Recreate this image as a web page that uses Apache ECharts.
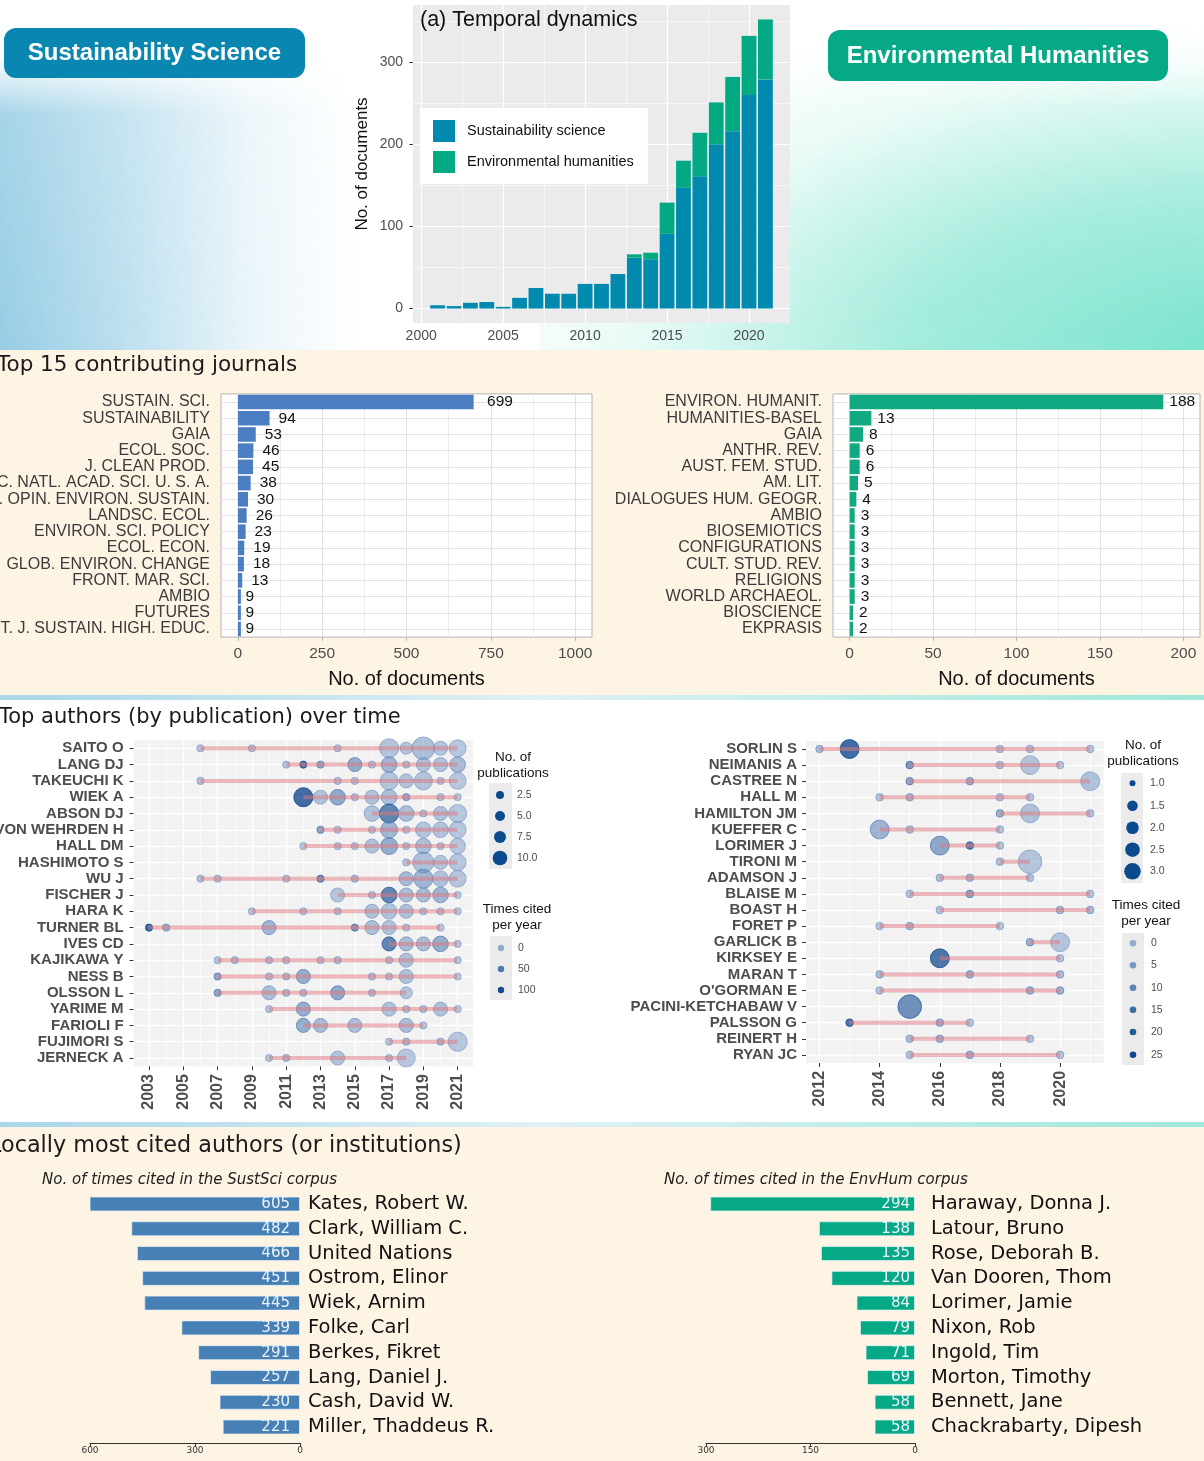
<!DOCTYPE html>
<html><head><meta charset="utf-8">
<script src="https://cdn.jsdelivr.net/npm/echarts@6/dist/echarts.min.js"></script>
<style>
html,body{margin:0;padding:0;}
body{width:1204px;height:1461px;position:relative;overflow:hidden;background:#fff;}
#top{position:absolute;left:0;top:0;width:1204px;height:350px;background:#fff;overflow:hidden;}
#glowL{position:absolute;left:0;top:55px;width:400px;height:295px;
 background:linear-gradient(to right, rgba(150,205,228,1) 0%, rgba(178,218,236,0.88) 30%, rgba(215,236,245,0.55) 62%, rgba(255,255,255,0) 90%);
 -webkit-mask-image:linear-gradient(to bottom, rgba(0,0,0,0) 0%, rgba(0,0,0,0.85) 20%, rgba(0,0,0,1) 100%);
 mask-image:linear-gradient(to bottom, rgba(0,0,0,0) 0%, rgba(0,0,0,0.85) 20%, rgba(0,0,0,1) 100%);}
#glowR{position:absolute;left:540px;top:20px;width:720px;height:390px;
 background:radial-gradient(ellipse at 100% 85%, rgba(115,226,203,1) 0%, rgba(140,231,211,0.8) 35%, rgba(200,244,235,0.4) 62%, rgba(255,255,255,0) 82%);
 -webkit-mask-image:linear-gradient(to bottom, rgba(0,0,0,0) 0%, rgba(0,0,0,0.9) 22%, rgba(0,0,0,1) 100%);
 mask-image:linear-gradient(to bottom, rgba(0,0,0,0) 0%, rgba(0,0,0,0.9) 22%, rgba(0,0,0,1) 100%);}
#band1{position:absolute;left:0;top:350px;width:1204px;height:345px;background:#fdf4e4;}
#strip1{position:absolute;left:0;top:695px;width:1204px;height:5px;background:linear-gradient(to right,#a9d6e8,#dff1f5 45%,#9fe8d8);}
#strip2{position:absolute;left:0;top:1122px;width:1204px;height:5px;background:linear-gradient(to right,#a9d6e8,#dff1f5 45%,#9fe8d8);}
#band3{position:absolute;left:0;top:1127px;width:1204px;height:334px;background:#fdf4e4;}
#chart{position:absolute;left:0;top:0;width:1204px;height:1461px;}
</style>
</head><body>
<div id="top"><div id="glowL"></div><div id="glowR"></div></div>
<div id="band1"></div><div id="strip1"></div><div id="strip2"></div><div id="band3"></div>
<div id="chart"></div>
<script>
// ---------------- DATA ----------------
const temporalYears = [2001,2002,2003,2004,2005,2006,2007,2008,2009,2010,2011,2012,2013,2014,2015,2016,2017,2018,2019,2020,2021];
const ssDocsPerYear = [4,3,7,8,2,13,25,18,18,30,30,42,62,60,91,147,161,200,216,260,279];
const ehDocsPerYear = [0,0,0,0,0,0,0,0,0,0,0,0,4,8,38,33,53,51,66,72,73];
const temporalYearTicks = [2000,2005,2010,2015,2020];
const temporalDocTicks = [0,100,200,300];

const ssJournals = ['SUSTAIN. SCI.','SUSTAINABILITY','GAIA','ECOL. SOC.','J. CLEAN PROD.','PROC. NATL. ACAD. SCI. U. S. A.','CURR. OPIN. ENVIRON. SUSTAIN.','LANDSC. ECOL.','ENVIRON. SCI. POLICY','ECOL. ECON.','GLOB. ENVIRON. CHANGE','FRONT. MAR. SCI.','AMBIO','FUTURES','INT. J. SUSTAIN. HIGH. EDUC.'];
const ssJournalDocs = [699,94,53,46,45,38,30,26,23,19,18,13,9,9,9];
const ssJournalTicks = [0,250,500,750,1000];

const ehJournals = ['ENVIRON. HUMANIT.','HUMANITIES-BASEL','GAIA','ANTHR. REV.','AUST. FEM. STUD.','AM. LIT.','DIALOGUES HUM. GEOGR.','AMBIO','BIOSEMIOTICS','CONFIGURATIONS','CULT. STUD. REV.','RELIGIONS','WORLD ARCHAEOL.','BIOSCIENCE','EKPRASIS'];
const ehJournalDocs = [188,13,8,6,6,5,4,3,3,3,3,3,3,2,2];
const ehJournalTicks = [0,50,100,150,200];

const ssAuthors = ['SAITO O','LANG DJ','TAKEUCHI K','WIEK A','ABSON DJ','VON WEHRDEN H','HALL DM','HASHIMOTO S','WU J','FISCHER J','HARA K','TURNER BL','IVES CD','KAJIKAWA Y','NESS B','OLSSON L','YARIME M','FARIOLI F','FUJIMORI S','JERNECK A'];
// per author: [year, no. of publications, times cited per year]
const ssAuthorRecords = [
 [[2006,1,8],[2009,1,8],[2014,1,8],[2017,7,8],[2018,2,8],[2019,11,14],[2020,3,8],[2021,5,6]],
 [[2011,1,8],[2012,1,105],[2013,1,45],[2015,3,40],[2016,1,8],[2017,4,30],[2018,1,8],[2019,3,12],[2020,3,12],[2021,4,22]],
 [[2006,1,12],[2014,1,8],[2015,1,8],[2017,6,8],[2018,3,8],[2019,6,10],[2020,1,8],[2021,5,6]],
 [[2012,7,120],[2013,3,12],[2014,4,45],[2015,1,8],[2016,3,12],[2017,4,18],[2018,1,40],[2020,1,8],[2021,1,6]],
 [[2016,4,12],[2017,7,85],[2018,4,18],[2019,1,8],[2020,3,12],[2021,6,6]],
 [[2013,1,50],[2014,1,8],[2016,1,8],[2017,5,30],[2018,1,8],[2019,4,8],[2020,4,10],[2021,5,6]],
 [[2012,1,8],[2014,1,8],[2015,1,8],[2016,3,12],[2017,5,40],[2018,1,8],[2019,4,15],[2020,1,8],[2021,4,6]],
 [[2018,1,8],[2019,9,12],[2020,3,8],[2021,5,6]],
 [[2006,1,12],[2007,1,8],[2011,1,8],[2013,1,75],[2015,1,18],[2018,3,20],[2019,7,30],[2020,4,12],[2021,5,8]],
 [[2014,3,8],[2016,1,8],[2017,4,85],[2018,3,18],[2019,3,22],[2020,4,30],[2021,1,6]],
 [[2009,1,8],[2012,1,8],[2014,1,8],[2016,3,12],[2017,4,12],[2018,3,12],[2019,1,8],[2020,1,8],[2021,1,6]],
 [[2003,1,110],[2004,1,35],[2010,3,30],[2015,1,65],[2016,3,18],[2017,3,12],[2018,1,8],[2020,1,6]],
 [[2017,3,85],[2018,3,22],[2019,3,22],[2020,4,40],[2021,1,6]],
 [[2007,1,8],[2008,1,12],[2010,1,12],[2011,1,12],[2013,1,8],[2014,1,12],[2017,1,8],[2018,3,12],[2021,1,6]],
 [[2007,1,50],[2010,1,12],[2011,1,18],[2012,3,40],[2016,1,12],[2017,1,8],[2018,3,12],[2021,1,6]],
 [[2007,1,50],[2010,3,18],[2011,1,18],[2012,1,12],[2014,3,45],[2016,1,12],[2018,2,8]],
 [[2010,1,8],[2012,3,40],[2017,3,12],[2018,1,12],[2019,1,12],[2020,3,12],[2021,1,6]],
 [[2012,3,40],[2013,3,22],[2015,3,18],[2018,3,18],[2019,1,8]],
 [[2017,1,8],[2018,1,18],[2020,1,18],[2021,7,6]],
 [[2010,1,8],[2011,1,18],[2014,3,12],[2017,1,12],[2018,6,6]]
];
const ssAuthorYearTicks = [2003,2005,2007,2009,2011,2013,2015,2017,2019,2021];
const ssPubLegendValues = [2.5,5,7.5,10];
const ssCiteLegendValues = [0,50,100];

const ehAuthors = ['SORLIN S','NEIMANIS A','CASTREE N','HALL M','HAMILTON JM','KUEFFER C','LORIMER J','TIRONI M','ADAMSON J','BLAISE M','BOAST H','FORET P','GARLICK B','KIRKSEY E','MARAN T',"O'GORMAN E",'PACINI-KETCHABAW V','PALSSON G','REINERT H','RYAN JC'];
const ehAuthorRecords = [
 [[2012,1,5],[2013,2,27],[2018,1,3],[2019,1,3],[2021,1,3]],
 [[2015,1,16],[2018,1,3],[2019,2,2],[2020,1,2]],
 [[2015,1,12],[2017,1,9],[2021,2,3]],
 [[2014,1,3],[2015,1,6],[2018,1,3],[2019,1,3]],
 [[2018,1,9],[2019,2,3],[2021,1,3]],
 [[2014,2,8],[2015,1,4],[2018,1,3]],
 [[2016,2,12],[2017,1,22],[2018,1,3]],
 [[2018,1,4],[2019,3,2]],
 [[2016,1,4],[2017,1,6],[2019,1,3]],
 [[2015,1,3],[2017,1,12],[2021,1,3]],
 [[2016,1,3],[2020,1,6],[2021,1,6]],
 [[2014,1,3],[2015,1,6],[2018,1,3]],
 [[2019,1,9],[2020,2,2]],
 [[2016,2,25],[2020,1,3]],
 [[2014,1,5],[2017,1,8],[2020,1,5]],
 [[2014,1,3],[2019,1,8],[2020,1,8]],
 [[2015,3,18]],
 [[2013,1,25],[2016,1,8],[2017,1,3]],
 [[2015,1,5],[2016,1,8],[2019,1,3]],
 [[2015,1,3],[2017,1,8],[2020,1,3]]
];
const ehAuthorYearTicks = [2012,2014,2016,2018,2020];
const ehPubLegendValues = [1,1.5,2,2.5,3];
const ehCiteLegendValues = [0,5,10,15,20,25];

const ssCitedNames = ['Kates, Robert W.','Clark, William C.','United Nations','Ostrom, Elinor','Wiek, Arnim','Folke, Carl','Berkes, Fikret','Lang, Daniel J.','Cash, David W.','Miller, Thaddeus R.'];
const ssCitedCounts = [605,482,466,451,445,339,291,257,230,221];
const ssCitedTicks = [0,300,600];
const ehCitedNames = ['Haraway, Donna J.','Latour, Bruno','Rose, Deborah B.','Van Dooren, Thom','Lorimer, Jamie','Nixon, Rob','Ingold, Tim','Morton, Timothy','Bennett, Jane','Chackrabarty, Dipesh'];
const ehCitedCounts = [294,138,135,120,84,79,71,69,58,58];
const ehCitedTicks = [0,150,300];

// ---------------- HELPERS ----------------
const FONT = '"Liberation Sans", Arial, sans-serif';
const DV = '"DejaVu Sans", sans-serif';
const plain = v => String(v);
const grid = [], xAxis = [], yAxis = [], series = [], graphic = [];

function minorsOf(ticks, min, max){
  const out = [];
  const step = ticks[1]-ticks[0];
  const cand = [ticks[0]-step/2];
  for (let i=0;i<ticks.length-1;i++) cand.push((ticks[i]+ticks[i+1])/2);
  cand.push(ticks[ticks.length-1]+step/2);
  cand.forEach(v=>{ if (v>min && v<max) out.push(v); });
  return out;
}
function gridLines(idx, xs, ys){
  const data = [];
  xs.forEach(l=>data.push({xAxis:l.v, lineStyle:{color:l.c, width:l.w, type:'solid'}}));
  ys.forEach(l=>data.push({yAxis:l.v, lineStyle:{color:l.c, width:l.w, type:'solid'}}));
  series.push({type:'line', xAxisIndex:idx, yAxisIndex:idx, data:[], z:1, silent:true, animation:false,
    markLine:{z:1, silent:true, symbol:['none','none'], label:{show:false}, emphasis:{disabled:true}, animation:false, data}});
}
function lines(vals, c, w){ return vals.map(v=>({v, c, w})); }
function bubbleColor(tc, tcMax){
  const t = Math.max(0, Math.min(1, tc/tcMax));
  const lo=[120,153,197], hi=[8,66,138];
  const c = lo.map((v,i)=>Math.round(v+(hi[i]-v)*t));
  const a = 0.58 + 0.37*t;
  return {fill:`rgba(${c.join(',')},${a.toFixed(2)})`, stroke:`rgba(${c.join(',')},${Math.min(1,a+0.2).toFixed(2)})`};
}
const ssRadius = n => 3.6 + 7.7*Math.sqrt((n-1)/10);
const ehRadius = n => 3.8 + 8*Math.sqrt((n-1)/2);

function txt(text, x, y, opt){
  opt = opt || {};
  graphic.push({type:'text', x, y, z:20, silent:true, style:{text, fill:opt.fill||'#111',
    font:(opt.style||'normal')+' '+(opt.weight||'normal')+' '+(opt.size||13)+'px '+(opt.family||FONT),
    textAlign:opt.align||'left', textVerticalAlign:'middle', align:opt.align||'left', verticalAlign:'middle'}});
}

// ---------------- (a) Temporal dynamics ----------------
grid.push({left:413, top:5, width:377, height:318, show:true, backgroundColor:'#ebebeb', borderWidth:0, outerBoundsMode:'none'});
xAxis.push({gridIndex:0, type:'value', min:1999.5, max:2022.5, splitLine:{show:false}, axisLine:{show:false},
  axisTick:{show:true, customValues:temporalYearTicks, length:3.7, lineStyle:{color:'#333'}},
  axisLabel:{customValues:temporalYearTicks, formatter:plain, fontSize:14, color:'#4d4d4d', margin:6, fontFamily:FONT}});
yAxis.push({gridIndex:0, type:'value', min:-17.6, max:369.6, splitLine:{show:false}, axisLine:{show:false},
  axisTick:{show:true, customValues:temporalDocTicks, length:3.7, lineStyle:{color:'#333'}},
  axisLabel:{customValues:temporalDocTicks, formatter:plain, fontSize:14, color:'#4d4d4d', margin:10, fontFamily:FONT},
  name:'No. of documents', nameLocation:'middle', nameGap:42, nameTextStyle:{fontSize:17, color:'#111', fontFamily:FONT}});
gridLines(0,
  lines(temporalYearTicks,'#fff',1.2).concat(lines(minorsOf(temporalYearTicks,1999.5,2022.5),'#fff',0.6)),
  lines(temporalDocTicks,'#fff',1.2).concat(lines(minorsOf(temporalDocTicks,-17.6,369.6),'#fff',0.6)));
series.push({name:'Sustainability science', type:'bar', stack:'docs', xAxisIndex:0, yAxisIndex:0, barWidth:14.8, z:2,
  encode:{x:1, y:0}, data:temporalYears.map((y,i)=>[ssDocsPerYear[i], y]), itemStyle:{color:'#0189ae'}});
series.push({name:'Environmental humanities', type:'bar', stack:'docs', xAxisIndex:0, yAxisIndex:0, barWidth:14.8, z:2,
  encode:{x:1, y:0}, data:temporalYears.map((y,i)=>[ehDocsPerYear[i], y]), itemStyle:{color:'#02a983'}});
txt('(a) Temporal dynamics', 420, 20, {size:21.5});

// ---------------- Top 15 journals ----------------
function journalPanel(gi, left, width, min, max, ticks, names, vals, color, distFn){
  grid.push({left, top:393.9, width, height:243.2, show:true, backgroundColor:'#fff', borderColor:'#b3b3b3', borderWidth:1, outerBoundsMode:'none'});
  xAxis.push({gridIndex:gi, type:'value', min, max, splitLine:{show:false}, axisLine:{show:false},
    axisTick:{show:true, customValues:ticks, length:3.7, lineStyle:{color:'#b3b3b3'}},
    axisLabel:{customValues:ticks, formatter:plain, fontSize:15.5, color:'#4d4d4d', margin:9, fontFamily:FONT},
    name:'No. of documents', nameLocation:'middle', nameGap:32, nameTextStyle:{fontSize:20, color:'#111', fontFamily:FONT}});
  yAxis.push({gridIndex:gi, type:'category', inverse:true, data:names, splitLine:{show:false}, axisLine:{show:false},
    axisTick:{show:true, alignWithLabel:true, interval:0, length:3.7, lineStyle:{color:'#b3b3b3'}},
    axisLabel:{interval:0, fontSize:16, color:'#3b3b3b', margin:11, fontFamily:FONT}});
  gridLines(gi,
    lines(ticks,'#e2e2e2',1).concat(lines(minorsOf(ticks,min,max),'#efefef',1)),
    lines(names.map((n,i)=>i),'#e2e2e2',1));
  series.push({type:'bar', xAxisIndex:gi, yAxisIndex:gi, barWidth:14.6, z:2, itemStyle:{color},
    data:vals.map(v=>({value:v, label:{distance:distFn(v)}})),
    label:{show:true, position:'right', fontSize:15.5, color:'#111', fontFamily:FONT}});
}
journalPanel(1, 221, 371, -50, 1050, ssJournalTicks, ssJournals, ssJournalDocs, '#4a7ec1', v=>4.5*String(v).length);
journalPanel(2, 833, 367, -10, 210, ehJournalTicks, ehJournals, ehJournalDocs, '#10a981', v=>6);
txt('Top 15 contributing journals', -3, 365, {size:21.5, family:DV, fill:'#1a1a1a'});

// ---------------- Top authors over time ----------------
function authorPanel(gi, left, top, width, height, min, max, ticks, names, records, radiusFn, tcMax, labelMargin){
  grid.push({left, top, width, height, show:true, backgroundColor:'#f2f2f2', borderWidth:0, outerBoundsMode:'none'});
  xAxis.push({gridIndex:gi, type:'value', min, max, splitLine:{show:false}, axisLine:{show:false},
    axisTick:{show:true, customValues:ticks, length:4, lineStyle:{color:'#333'}},
    axisLabel:{customValues:ticks, formatter:plain, rotate:90, fontSize:16, fontWeight:'bold', color:'#4d4d4d', margin:8, fontFamily:FONT}});
  yAxis.push({gridIndex:gi, type:'category', inverse:true, data:names, splitLine:{show:false}, axisLine:{show:false},
    axisTick:{show:true, alignWithLabel:true, interval:0, length:4, lineStyle:{color:'#333'}},
    axisLabel:{interval:0, fontSize:15, fontWeight:'bold', color:'#4d4d4d', margin:labelMargin, fontFamily:FONT}});
  gridLines(gi,
    lines(ticks,'#fff',1.3).concat(lines(minorsOf(ticks,min,max),'#fff',0.7)),
    lines(names.map((n,i)=>i),'#fff',1.3));
  const pts=[], segs=[];
  records.forEach((recs,i)=>{
    const ys = recs.map(r=>r[0]);
    segs.push([Math.min(...ys), Math.max(...ys), i]);
    recs.forEach(r=>{
      const col = bubbleColor(r[2], tcMax);
      pts.push({value:[r[0], i], symbolSize:2*radiusFn(r[1]), itemStyle:{color:col.fill, borderColor:col.stroke, borderWidth:1}});
    });
  });
  series.push({type:'scatter', xAxisIndex:gi, yAxisIndex:gi, data:pts, z:2, silent:true});
  series.push({type:'custom', xAxisIndex:gi, yAxisIndex:gi, data:segs, z:3, silent:true, encode:{x:[0,1], y:2},
    renderItem:(p, api)=>{
      const a = api.coord([api.value(0), api.value(2)]);
      const b = api.coord([api.value(1), api.value(2)]);
      return {type:'line', shape:{x1:a[0], y1:a[1], x2:b[0], y2:b[1]}, style:{stroke:'rgba(222,118,124,0.5)', lineWidth:4}};
    }});
}
authorPanel(3, 133.6, 740.15, 339.5, 326, 2002.1, 2021.9, ssAuthorYearTicks, ssAuthors, ssAuthorRecords, ssRadius, 110, 10);
authorPanel(4, 806, 740.95, 297.7, 322, 2011.55, 2021.45, ehAuthorYearTicks, ehAuthors, ehAuthorRecords, ehRadius, 27, 9);
txt('Top authors (by publication) over time', -1, 718, {size:21, family:DV, fill:'#1a1a1a'});

// legends for author panels
function legendBlock(cfg){
  txt(cfg.t1, cfg.tx, cfg.ty1, {size:13.5, align:'center'});
  txt(cfg.t2, cfg.tx, cfg.ty2, {size:13.5, align:'center'});
  graphic.push({type:'rect', z:19, silent:true, shape:{x:cfg.bx, y:cfg.by, width:cfg.bw, height:cfg.bh}, style:{fill:'#ebebeb'}});
  cfg.vals.forEach((v,i)=>{
    graphic.push({type:'circle', z:20, silent:true, shape:{cx:cfg.dx, cy:cfg.dys[i], r:cfg.rs[i]}, style:{fill:cfg.colors[i]}});
    txt(cfg.fmt(v), cfg.lx, cfg.dys[i], {size:10.5, fill:'#4d4d4d'});
  });
}
legendBlock({t1:'No. of', t2:'publications', tx:513, ty1:757, ty2:773, bx:489, by:783, bw:23, bh:86, dx:500,
  dys:[795,816,837,858], rs:[4,5,6,7.3], colors:ssPubLegendValues.map(()=> '#0b4a8c'), vals:ssPubLegendValues, lx:517, fmt:v=>v.toFixed(1)});
legendBlock({t1:'Times cited', t2:'per year', tx:517, ty1:909, ty2:925, bx:490, by:936, bw:22, bh:64, dx:501,
  dys:[948,969,990], rs:[3.2,3.2,3.2], colors:ssCiteLegendValues.map(v=>bubbleColor(v,110).stroke), vals:ssCiteLegendValues, lx:518, fmt:v=>String(v)});
legendBlock({t1:'No. of', t2:'publications', tx:1143, ty1:745.7, ty2:761, bx:1121, by:773, bw:22, bh:110, dx:1132.5,
  dys:[783.3,805.7,827.7,849.7,871.3], rs:[3,5.3,6.3,7.3,8.3], colors:ehPubLegendValues.map(()=> '#0b4a8c'), vals:ehPubLegendValues, lx:1150, fmt:v=>v.toFixed(1)});
legendBlock({t1:'Times cited', t2:'per year', tx:1146, ty1:905, ty2:921, bx:1122, by:933, bw:22, bh:132, dx:1133,
  dys:[943.3,965.3,987.7,1009.7,1032,1054.7], rs:[3.3,3.3,3.3,3.3,3.3,3.3], colors:ehCiteLegendValues.map(v=>bubbleColor(v,27).stroke), vals:ehCiteLegendValues, lx:1151, fmt:v=>String(v)});

// ---------------- Locally most cited ----------------
function citedPanel(gi, left, width, max, ticks, names, vals, color, labelDist, nameMargin){
  grid.push({left, top:1191.6, width, height:247.8, show:false, outerBoundsMode:'none'});
  xAxis.push({gridIndex:gi, type:'value', inverse:true, min:0, max, splitLine:{show:false}, offset:3.6,
    axisLine:{show:true, onZero:false, lineStyle:{color:'#333', width:1}},
    axisTick:{show:true, customValues:ticks, length:4, lineStyle:{color:'#333'}},
    axisLabel:{customValues:ticks, formatter:plain, fontSize:9, color:'#333', margin:3, fontFamily:DV}});
  yAxis.push({gridIndex:gi, type:'category', inverse:true, position:'right', data:names, splitLine:{show:false},
    axisLine:{show:false}, axisTick:{show:false},
    axisLabel:{interval:0, fontSize:19.5, color:'#111', margin:nameMargin, fontFamily:DV}});
  series.push({type:'bar', xAxisIndex:gi, yAxisIndex:gi, barWidth:15, z:2, data:vals,
    itemStyle:{color, borderColor:'rgba(235,242,250,0.7)', borderWidth:1},
    label:{show:true, position:'insideRight', distance:labelDist, fontSize:15, color:'#eaf2fa', fontFamily:DV}});
}
citedPanel(5, 90, 210, 600, ssCitedTicks, ssCitedNames, ssCitedCounts, '#4680b4', 10, 8);
citedPanel(6, 706, 209, 300, ehCitedTicks, ehCitedNames, ehCitedCounts, '#05a985', 5, 16);
txt('No. of times cited in the SustSci corpus', 42, 1180, {size:15, style:'italic', family:DV, fill:'#222'});
txt('No. of times cited in the EnvHum corpus', 664, 1180, {size:15, style:'italic', family:DV, fill:'#222'});
txt('Locally most cited authors (or institutions)', -11, 1146, {size:22.3, family:DV, fill:'#1a1a1a'});

// ---------------- Badges ----------------
graphic.push({type:'rect', z:18, silent:true, shape:{x:4, y:28, width:301, height:50, r:12}, style:{fill:'#0a87b0'}});
txt('Sustainability Science', 154.5, 53.5, {size:24, weight:'bold', fill:'#fff', align:'center'});
graphic.push({type:'rect', z:18, silent:true, shape:{x:828, y:30, width:340, height:51, r:12}, style:{fill:'#06a985'}});
txt('Environmental Humanities', 998, 56, {size:24, weight:'bold', fill:'#fff', align:'center'});

// ---------------- CHART ----------------
const chart = echarts.init(document.getElementById('chart'), null, {renderer:'canvas'});
chart.setOption({
  backgroundColor:'transparent',
  animation:false,
  textStyle:{fontFamily:FONT},
  legend:{show:true, data:['Sustainability science','Environmental humanities'], orient:'vertical', left:420, top:108,
    backgroundColor:'#fff', padding:[12,14,11,13], itemWidth:22, itemHeight:22, itemGap:9, icon:'rect', selectedMode:false,
    textStyle:{fontSize:14.5, color:'#111', fontFamily:FONT, padding:[0,0,0,7]}},
  grid, xAxis, yAxis, series, graphic
});
</script>
</body></html>
